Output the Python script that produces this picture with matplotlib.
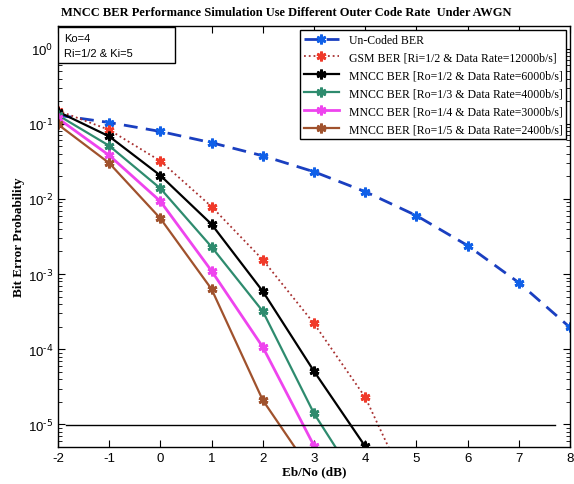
import matplotlib
matplotlib.use("Agg")
import matplotlib.pyplot as plt
from matplotlib.ticker import LogLocator, FixedLocator, FuncFormatter
from matplotlib.patches import Rectangle
import math

ebno = [-2, -1, 0, 1, 2, 3, 4, 5, 6, 7, 8]
uncoded = [0.13, 0.104, 0.079, 0.056, 0.0375, 0.023, 0.0125, 0.006, 0.0024, 7.7e-4, 1.95e-4]

gsm_x = [-2, -1, 0, 1, 2, 3, 4, 5]
gsm = [0.15, 0.083, 0.032, 0.0079, 1.55e-3, 2.2e-4, 2.3e-5, 8e-7]

ro12_x = [-2, -1, 0, 1, 2, 3, 4]
ro12 = [0.145, 0.068, 0.0205, 4.6e-3, 5.9e-4, 5.1e-5, 5.1e-6]

ro13_x = [-2, -1, 0, 1, 2, 3, 4]
ro13 = [0.13, 0.051, 0.0138, 2.3e-3, 3.2e-4, 1.4e-5, 1.2e-6]

ro14_x = [-2, -1, 0, 1, 2, 3]
ro14 = [0.118, 0.038, 9.3e-3, 1.1e-3, 1.07e-4, 5.2e-6]

ro15_x = [-2, -1, 0, 1, 2, 3]
ro15 = [0.098, 0.03, 5.5e-3, 6.3e-4, 2.1e-5, 2.1e-6]

ref_x = [-1.85, 7.7]
ref_y = [9.8e-6, 9.8e-6]

labels = ["Un-Coded BER",
          "GSM BER [Ri=1/2 & Data Rate=12000b/s]",
          "MNCC BER [Ro=1/2 & Data Rate=6000b/s]",
          "MNCC BER [Ro=1/3 & Data Rate=4000b/s]",
          "MNCC BER [Ro=1/4 & Data Rate=3000b/s]",
          "MNCC BER [Ro=1/5 & Data Rate=2400b/s]"]

plt.rcParams['mathtext.default'] = 'regular'
plt.rcParams['axes.unicode_minus'] = False
plt.rcParams['font.family'] = ['Liberation Sans', 'DejaVu Sans']

fig = plt.figure(figsize=(5.74, 4.85), dpi=100)
ax = fig.add_axes([0.101, 0.0763, 0.892, 0.868])

ast = (6, 2, 0)
ax.plot(ebno, uncoded, color='#1a3fc0', ls=(0, (5, 3)), lw=2, marker=ast, ms=7, mew=2,
        mec='#1060e8', label=labels[0])
ax.plot(gsm_x, gsm, color='#a83030', ls=':', lw=1.3, marker=ast, ms=7, mew=2,
        mec='#f03a2a', label=labels[1])
ax.plot(ro12_x, ro12, color='black', lw=1.6, marker=ast, ms=7, mew=2, label=labels[2])
ax.plot(ro13_x, ro13, color='#2e8b6e', lw=1.6, marker=ast, ms=7, mew=2, label=labels[3])
ax.plot(ro14_x, ro14, color='#ee44ee', lw=2, marker=ast, ms=7, mew=2, label=labels[4])
ax.plot(ro15_x, ro15, color='#a0522d', lw=1.6, marker=ast, ms=7, mew=2, label=labels[5])
ax.plot(ref_x, ref_y, color='black', lw=1.0)

ax.set_yscale('log')
ax.set_xlim(-2, 8)
ax.set_ylim(5e-6, 2)
ax.set_xticks(range(-2, 9))
ax.yaxis.set_major_locator(FixedLocator([1e-5, 1e-4, 1e-3, 1e-2, 1e-1, 1e0]))
ax.yaxis.set_minor_locator(LogLocator(base=10, subs=range(2, 10), numticks=20))


def fmt(v, pos):
    e = int(round(math.log10(v)))
    return r"$10^{\text{%d}}$" % e


ax.yaxis.set_major_formatter(FuncFormatter(fmt))
ax.tick_params(which='both', direction='in', top=True, right=True, labelsize=9.5)
ax.tick_params(which='major', length=5)
ax.tick_params(which='minor', length=3)
for s in ax.spines.values():
    s.set_linewidth(1.0)

ax.set_title("MNCC BER Performance Simulation Use Different Outer Code Rate  Under AWGN",
             fontfamily='Liberation Serif', fontweight='bold', fontsize=9, pad=8, x=0.445)
ax.set_xlabel("Eb/No (dB)", fontfamily='Liberation Serif', fontweight='bold', fontsize=9.5, labelpad=1)
ax.set_ylabel("Bit Error Probability", fontfamily='Liberation Serif', fontweight='bold', fontsize=9.5, labelpad=2)

leg = ax.legend(loc='upper right', prop={'family': 'Liberation Serif', 'size': 8.5},
                fancybox=False, edgecolor='black', framealpha=1, borderaxespad=0.3,
                handlelength=3, labelspacing=0.5, borderpad=0.35)
leg.get_frame().set_linewidth(1.0)

ax.add_patch(Rectangle((0.0, 0.912), 0.228, 0.086, transform=ax.transAxes,
                       fc='white', ec='black', lw=1.0, zorder=5))
ax.text(0.012, 0.971, "Ko=4", transform=ax.transAxes, fontsize=8,
        va='center', ha='left', zorder=6)
ax.text(0.012, 0.936, "Ri=1/2 & Ki=5", transform=ax.transAxes, fontsize=8,
        va='center', ha='left', zorder=6)

fig.savefig("out.png", dpi=100)
